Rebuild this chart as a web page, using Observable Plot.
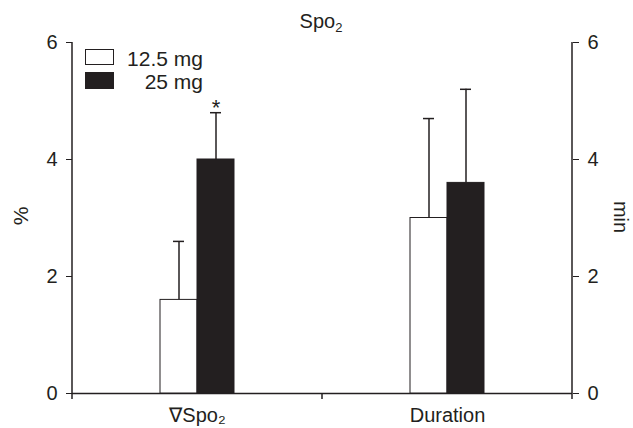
<!DOCTYPE html>
<html>
<head>
<meta charset="utf-8">
<script src="https://cdn.jsdelivr.net/npm/d3@7"></script>
<script src="https://cdn.jsdelivr.net/npm/@observablehq/plot@0.6"></script>
<style>
  body { margin: 0; background: #fff; }
  #wrap { position: relative; width: 633px; height: 428px; font-family: "Liberation Sans", Arial, sans-serif; color: #231f20; }
  .ov { position: absolute; font-size: 21px; line-height: 1; white-space: nowrap; }
  .sw { position: absolute; width: 29px; box-sizing: border-box; }
</style>
</head>
<body>
<div id="wrap"></div>
<script>
// ---- data ----
const groups = ["\u2207Spo\u2082", "Duration"];
const doses = ["12.5 mg", "25 mg"];
const groupCol = ["\u2207Spo\u2082", "\u2207Spo\u2082", "Duration", "Duration"];
const doseCol = ["12.5 mg", "25 mg", "12.5 mg", "25 mg"];
const meanVals = [1.6, 4.0, 3.0, 3.6];
const upperVals = [2.6, 4.8, 4.7, 5.2];
const sigMarks = ["", "*", "", ""];
const yTicks = [0, 2, 4, 6];

const rows = groupCol.map((g, i) => ({group: g, dose: doseCol[i], mean: meanVals[i], upper: upperVals[i], sig: sigMarks[i]}));
const ink = "#231f20";

const chart = Plot.plot({
  width: 633, height: 428,
  marginLeft: 71, marginRight: 61, marginTop: 42, marginBottom: 35,
  style: {fontFamily: "'Liberation Sans', Arial, sans-serif", fontSize: "20px", color: ink, background: "transparent"},
  facet: {data: rows, x: "group"},
  fx: {domain: groups, padding: 0, label: null, axis: "bottom", tickSize: 0, tickPadding: 14},
  x: {domain: doses, paddingInner: 0, paddingOuter: 2.29, axis: null},
  y: {domain: [0, 6], ticks: yTicks, tickFormat: "d", axis: "both", tickSize: 6, tickPadding: 9, label: null},
  color: {domain: doses, range: ["#ffffff", ink]},
  marks: [
    Plot.ruleY([0], {stroke: ink, strokeWidth: 1.5}),
    Plot.ruleX(rows, {x: "dose", y1: "mean", y2: "upper", stroke: ink, strokeWidth: 1.5}),
    Plot.tickY(rows, {x: "dose", y: "upper", stroke: ink, strokeWidth: 1.5, insetLeft: 13, insetRight: 13}),
    Plot.barY(rows, {x: "dose", y: "mean", fill: "dose", stroke: ink, strokeWidth: 1}),
    Plot.text(rows, {x: "dose", y: "upper", text: "sig", lineAnchor: "bottom", dy: 2, fill: ink, fontSize: 22})
  ]
});

const wrap = document.getElementById("wrap");
wrap.appendChild(chart);

// axis lines and band-boundary ticks, placed from Plot's own scales
const ys = chart.scale("y"), fxs = chart.scale("fx");
const y0 = ys.apply(0), yTop = ys.apply(d3.max(yTicks));
const edges = groups.map(g => fxs.apply(g));
edges.push(fxs.apply(groups[groups.length - 1]) + fxs.bandwidth);
const svg = d3.select(chart);
const g = svg.append("g").attr("stroke", ink).attr("stroke-width", 1.5);
edges.forEach((ex, i) => {
  const isSide = i === 0 || i === edges.length - 1;
  g.append("line").attr("x1", ex).attr("x2", ex).attr("y1", isSide ? yTop : y0).attr("y2", y0 + 6);
});

function ov(html, css) {
  const d = document.createElement("div");
  d.className = "ov";
  d.innerHTML = html;
  Object.assign(d.style, css);
  wrap.appendChild(d);
  return d;
}
// title
ov("Spo<sub style='font-size:13px;vertical-align:-4px'>2</sub>", {left: "321px", top: "11px", transform: "translateX(-50%)", fontSize: "20px"});
// y labels
ov("%", {left: "20px", top: "216px", transform: "translate(-50%,-50%) rotate(-90deg)"});
ov("min", {left: "621px", top: "217px", transform: "translate(-50%,-50%) rotate(90deg)", fontSize: "20px"});
// legend
const sw1 = document.createElement("div"); sw1.className = "sw";
Object.assign(sw1.style, {left: "85px", top: "49px", height: "16px", border: "1.2px solid " + ink, background: "#fff"});
wrap.appendChild(sw1);
const sw2 = document.createElement("div"); sw2.className = "sw";
Object.assign(sw2.style, {left: "85px", top: "72px", height: "17px", background: ink});
wrap.appendChild(sw2);
ov(doses[0], {left: "120px", top: "48px", width: "83px", textAlign: "right"});
ov(doses[1], {left: "120px", top: "71px", width: "83px", textAlign: "right"});
</script>
</body>
</html>
